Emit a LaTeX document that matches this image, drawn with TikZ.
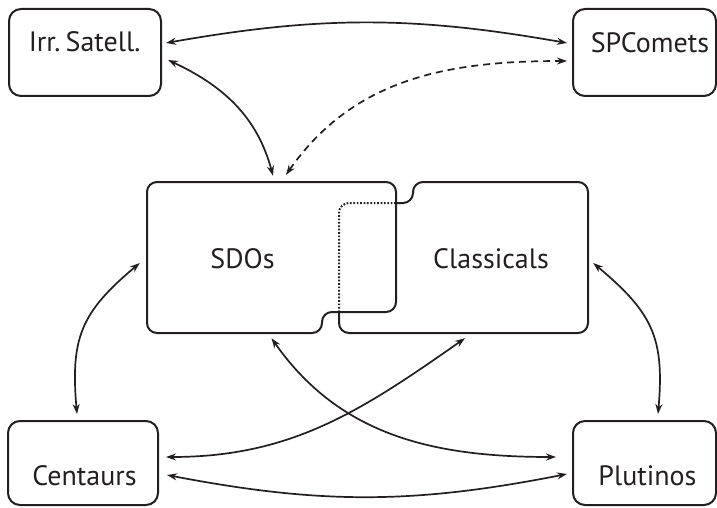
\documentclass[tikz,border=0pt]{standalone}
\usepackage{fontspec}
\setmainfont{PT Sans}
\usepackage{tikz}
\usetikzlibrary{arrows.meta}

\definecolor{ink}{RGB}{35,31,32}

\begin{document}
\begin{tikzpicture}[x=1pt,y=1pt,color=ink,
		box/.style={draw,line width=2pt,rounded corners=12pt,inner sep=0pt},
		area/.style={inner sep=0pt},
		piece/.style={line width=2pt,rounded corners=10pt},
		lbl/.style={anchor=base,inner sep=0pt,font=\fontsize{28}{32}\selectfont,
			execute at begin node={\spaceskip=3pt\relax}},
		link/.style={line width=1.7pt,{Stealth[length=10pt,width=7pt]}-{Stealth[length=10pt,width=7pt]}}]
	\useasboundingbox (0,0) rectangle (717,507);
	% outer boxes
	\node[box,minimum width=152pt,minimum height=87pt] (irr) at (85,454.5) {};
	\node[box,minimum width=143pt,minimum height=87pt] (spc) at (644.5,454.5) {};
	\node[box,minimum width=150pt,minimum height=84pt] (cen) at (83,44) {};
	\node[box,minimum width=143pt,minimum height=84pt] (plu) at (644.5,44) {};
	\node[lbl] (irrtext) at (84.5,455) {Irr. Satell.};
	\node[lbl] (spctext) at (650,454) {SPComets};
	\node[lbl] (centext) at (84.5,22) {Centaurs};
	\node[lbl] (plutext) at (647.5,22) {Plutinos};
	% the two overlapping pieces
	\node[area,minimum width=249pt,minimum height=151pt] (sdo) at (271.5,249.5) {};
	\node[area,minimum width=249pt,minimum height=151pt] (cls) at (463.5,249.5) {};
	\draw[piece] (147,325) -- (396,325) -- (396,195) -- (322,195) -- (322,174) -- (147,174) -- cycle;
	\draw[piece] (396,304) -- (413,304) -- (413,325) -- (588,325) -- (588,174) -- (339,174) -- (339,195);
	\draw[piece,dash pattern=on 1.7pt off 1.7pt] (339,195) -- (339,304) -- (396,304);
	\node[lbl] (sdotext) at (242.5,239) {SDOs};
	\node[lbl] (clstext) at (491,239) {Classicals};
	% links
	\draw[link] ([xshift=4pt,yshift=9.5pt]irr.east) to[bend left=10] ([xshift=-5pt,yshift=9.5pt]spc.west);
	\draw[link] ([xshift=1.5pt,yshift=6pt]sdo.north) to[out=105,in=-25] ([xshift=6pt,yshift=-7.5pt]irr.east);
	\draw[link,dash pattern=on 7pt off 5pt] ([xshift=14.5pt,yshift=7pt]sdo.north) to[out=55,in=180] ([xshift=-5pt,yshift=-8.5pt]spc.west);
	\draw[link] ([xshift=-6pt,yshift=6pt]cen.north) to[out=95,in=-140,looseness=1.2] ([xshift=-7pt,yshift=-5.5pt]sdo.west);
	\draw[link] ([xshift=13.5pt,yshift=6pt]plu.north) to[out=85,in=-40,looseness=1.2] ([xshift=5pt,yshift=-5.5pt]cls.east);
	\draw[link] ([yshift=-5pt]sdo.south) to[out=-55,in=180] ([xshift=-16pt,yshift=6pt]plu.west);
	\draw[link] ([xshift=1.5pt,yshift=-5pt]cls.south) to[out=-145,in=0] ([xshift=7pt,yshift=6pt]cen.east);
	\draw[link] ([xshift=8pt,yshift=-12pt]cen.east) to[bend right=11] ([xshift=-5pt,yshift=-11pt]plu.west);
\end{tikzpicture}
\end{document}
